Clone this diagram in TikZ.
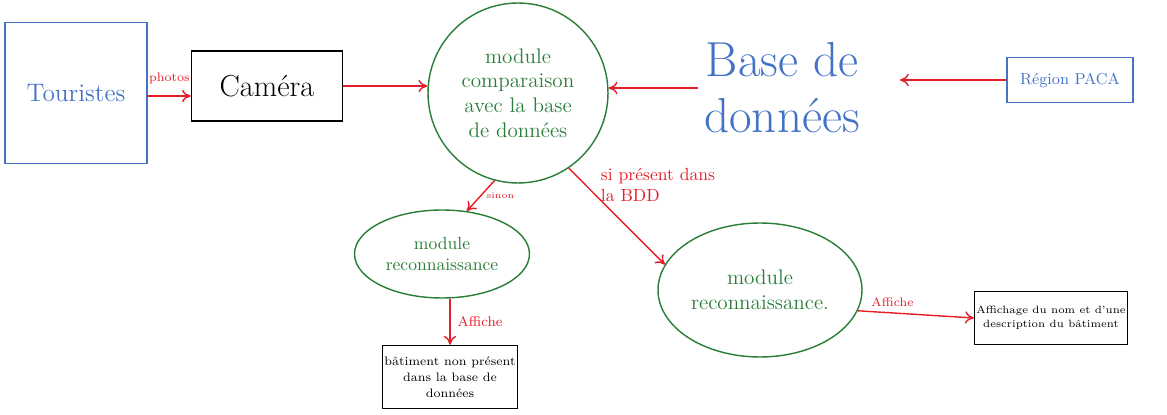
\documentclass[tikz,border=0pt]{standalone}
\usepackage{fontspec}
\usetikzlibrary{shapes.geometric,arrows.meta}
\definecolor{sketchblue}{RGB}{68,114,196}
\definecolor{sketchgreen}{RGB}{40,125,55}
\definecolor{sketchred}{RGB}{228,30,40}
\begin{document}
\begin{tikzpicture}[x=0.02cm, y=-0.02cm,
  bluebox/.style={draw=sketchblue, line width=0.9pt, text=sketchblue},
  blackbox/.style={draw, line width=0.8pt, align=center, inner sep=1pt},
  modshape/.style={draw=sketchgreen, line width=0.8pt, text=sketchgreen,
    align=center, inner sep=0pt},
  redarr/.style={draw=sketchred, line width=0.8pt, -{To[length=5pt,width=7pt]}},
  redlbl/.style={text=sketchred, inner sep=1pt}]
\useasboundingbox (0,0) rectangle (1167,415);
\node[bluebox, minimum width=2.84cm, minimum height=2.82cm, font=\Large] (tour) at (76,93) {Touristes};
\node[blackbox, minimum width=3.02cm, minimum height=1.4cm, font=\LARGE] (cam) at (267,86) {Caméra};
\node[modshape, circle, minimum size=3.6cm, font=\large] (cmp) at (518,93)
  {module\\comparaison\\avec la base\\de données};
\node[text=sketchblue, font=\fontsize{28}{32}\selectfont, align=center] (bdd) at (782,88) {Base de\\données};
\node[bluebox, minimum width=2.52cm, minimum height=0.9cm, font=\small] (pac) at (1070,80) {Région PACA};
\coordinate (bddin) at (900,80);
\node[modshape, ellipse, minimum width=3.5cm, minimum height=1.76cm] (rec1) at (442,254)
  {module\\reconnaissance};
\node[modshape, ellipse, minimum width=4.08cm, minimum height=2.68cm, font=\large] (rec2) at (760,290)
  {module\\reconnaissance.};
\node[blackbox, minimum width=2.68cm, minimum height=1.26cm, font=\fontsize{7}{9}\selectfont] (nop) at (450,377)
  {bâtiment non présent\\dans la base de\\données};
\node[blackbox, minimum width=2.66cm, minimum height=1.06cm, font=\fontsize{6}{8}\selectfont] (aff) at (1051,318)
  {Affichage du nom et d'une\\description du bâtiment};
\node[redlbl, align=left] (sipres) at (658,185) {si présent dans\\la BDD};
% fleches
\draw[redarr] ([yshift=-0.2cm]cam.west -| tour.east) -- node[redlbl, above=0.2cm, font=\scriptsize] {photos}
  ([yshift=-0.2cm]cam.west);
\draw[redarr] (cam.east) -- (cam.east -| cmp.west);
\draw[redarr] (bdd.west) -- (bdd.west -| cmp.east);
\draw[redarr] (pac.west) -- (bddin);
\draw[redarr] (cmp.-105) -- node[redlbl, right=2pt, font=\tiny] {sinon} (rec1.60);
\draw[redarr] (cmp.-56) -- (rec2.165);
\draw[redarr] (nop.north |- rec1.south) -- node[redlbl, right=3pt, font=\footnotesize] {Affiche} (nop.north);
\draw[redarr] (rec2.-12) -- node[redlbl, above=2pt, pos=0.3, font=\scriptsize] {Affiche} (aff.west);
\end{tikzpicture}
\end{document}
